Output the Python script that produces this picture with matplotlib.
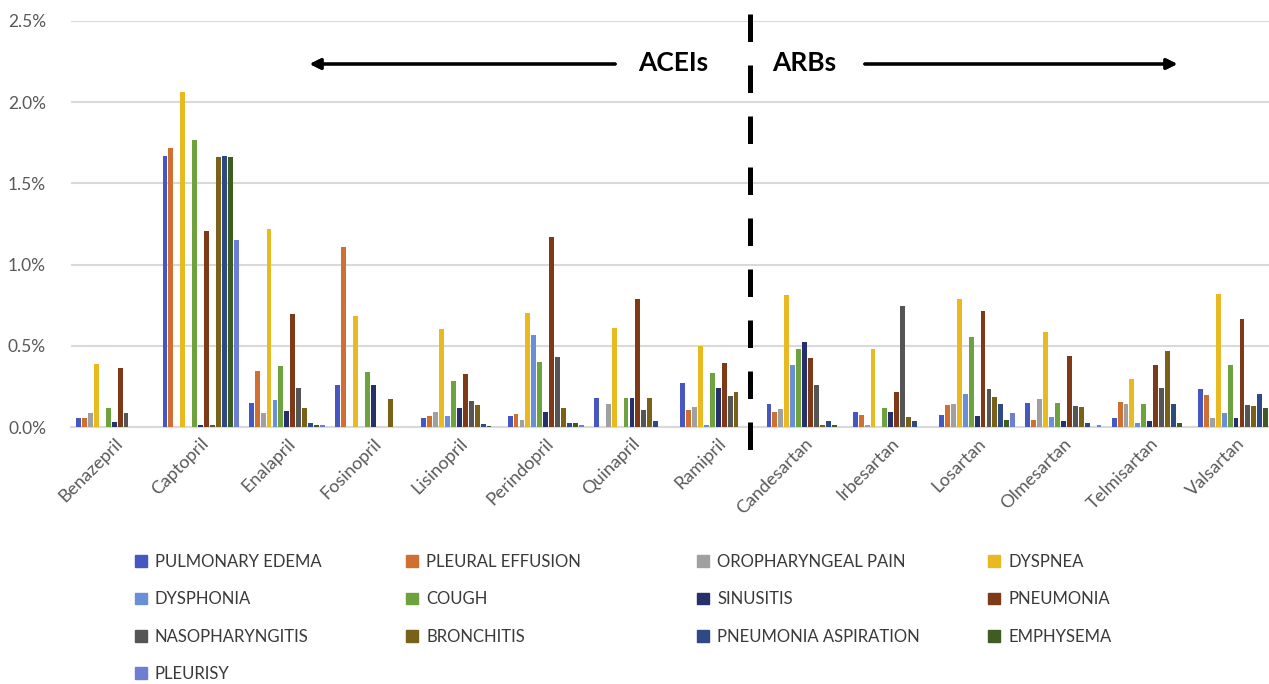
import matplotlib
matplotlib.use('Agg')
import matplotlib.pyplot as plt
from matplotlib.patches import Patch
from matplotlib.lines import Line2D
import numpy as np

plt.rcParams['font.family'] = ['Lato', 'DejaVu Sans']

drugs = ['Benazepril', 'Captopril', 'Enalapril', 'Fosinopril', 'Lisinopril', 'Perindopril',
         'Quinapril', 'Ramipril', 'Candesartan', 'Irbesartan', 'Losartan', 'Olmesartan',
         'Telmisartan', 'Valsartan']

series = ['PULMONARY EDEMA', 'PLEURAL EFFUSION', 'OROPHARYNGEAL PAIN', 'DYSPNEA', 'DYSPHONIA',
          'COUGH', 'SINUSITIS', 'PNEUMONIA', 'NASOPHARYNGITIS', 'BRONCHITIS',
          'PNEUMONIA ASPIRATION', 'EMPHYSEMA', 'PLEURISY']

colors = ['#4657C2', '#D06F32', '#A0A0A0', '#E9B921', '#6A8FD6', '#6EA23E', '#26306B',
          '#7E3A17', '#555555', '#7A6118', '#2D4A84', '#3F5D23', '#6C7FD4']

# values in percent, one list per series, in drug order
pulmonary_edema = [0.058, 1.67, 0.146, 0.256, 0.057, 0.068, 0.176, 0.273, 0.14, 0.092, 0.077, 0.146, 0.054, 0.235]
pleural_effusion = [0.058, 1.72, 0.344, 1.107, 0.068, 0.078, 0.0, 0.106, 0.095, 0.077, 0.137, 0.046, 0.155, 0.196]
oropharyngeal_pain = [0.089, 0.0, 0.088, 0.0, 0.092, 0.045, 0.144, 0.125, 0.11, 0.01, 0.14, 0.171, 0.14, 0.054]
dyspnea = [0.39, 2.06, 1.218, 0.681, 0.605, 0.703, 0.611, 0.496, 0.815, 0.48, 0.786, 0.587, 0.298, 0.819]
dysphonia = [0.0, 0.0, 0.164, 0.0, 0.07, 0.568, 0.0, 0.01, 0.384, 0.0, 0.204, 0.06, 0.026, 0.087]
cough = [0.117, 1.77, 0.373, 0.34, 0.285, 0.398, 0.178, 0.33, 0.482, 0.12, 0.552, 0.146, 0.14, 0.384]
sinusitis = [0.031, 0.01, 0.098, 0.256, 0.119, 0.09, 0.178, 0.242, 0.526, 0.092, 0.066, 0.034, 0.04, 0.054]
pneumonia = [0.363, 1.205, 0.695, 0.0, 0.324, 1.169, 0.787, 0.394, 0.426, 0.218, 0.716, 0.44, 0.384, 0.665]
nasopharyngitis = [0.089, 0.01, 0.24, 0.0, 0.162, 0.432, 0.106, 0.19, 0.261, 0.743, 0.235, 0.132, 0.241, 0.134]
bronchitis = [0.0, 1.66, 0.115, 0.17, 0.137, 0.115, 0.178, 0.217, 0.01, 0.06, 0.186, 0.122, 0.469, 0.13]
pneumonia_aspiration = [0.0, 1.67, 0.027, 0.0, 0.02, 0.025, 0.035, 0.0, 0.037, 0.034, 0.14, 0.022, 0.14, 0.206]
emphysema = [0.0, 1.66, 0.01, 0.0, 0.006, 0.025, 0.0, 0.0, 0.01, 0.0, 0.044, 0.0, 0.026, 0.118]
pleurisy = [0.0, 1.154, 0.01, 0.0, 0.0, 0.01, 0.0, 0.0, 0.0, 0.0, 0.089, 0.01, 0.0, 0.29]

values = [pulmonary_edema, pleural_effusion, oropharyngeal_pain, dyspnea, dysphonia, cough,
          sinusitis, pneumonia, nasopharyngitis, bronchitis, pneumonia_aspiration, emphysema, pleurisy]

yticks = [0, 0.5, 1.0, 1.5, 2.0, 2.5]
ytick_labels = ['0.0%', '0.5%', '1.0%', '1.5%', '2.0%', '2.5%']

fig = plt.figure(figsize=(12.69, 6.84), dpi=100)
ax = fig.add_axes([0.056, 0.3757, 0.952, 0.5936])

x = np.arange(len(drugs))
slot = 0.0687
for j, (name, vals) in enumerate(zip(series, values)):
    ax.bar(x + (j - 6) * slot, vals, width=slot * 0.82, color=colors[j], label=name, zorder=3)

ax.set_xlim(-0.5, len(drugs) - 0.5)
ax.set_ylim(0, 2.5)
ax.set_yticks(yticks)
ax.set_yticklabels(ytick_labels, fontsize=12.5, color='#595959')
ax.set_xticks(x)
ax.set_xticklabels(drugs, rotation=45, ha='right', rotation_mode='anchor',
                   fontsize=13, color='#595959')
ax.tick_params(axis='both', length=0)
ax.tick_params(axis='y', pad=18)
ax.tick_params(axis='x', pad=6)
ax.yaxis.grid(True, color='#D9D9D9', linewidth=1.5, zorder=0)
for s in ['top', 'right', 'left']:
    ax.spines[s].set_visible(False)
ax.spines['bottom'].set_color('#D9D9D9')
ax.spines['bottom'].set_linewidth(1.5)

# ACEIs / ARBs divider
fig.add_artist(Line2D([0.591, 0.591], [1 - 14 / 684, 1 - 452 / 684], transform=fig.transFigure,
                      color='black', linewidth=3.6, linestyle=(0, (5.5, 4.7)), zorder=5))
fig.text(0.5305, 1 - 63 / 684, 'ACEIs', ha='center', va='center', fontsize=19, fontweight='bold')
fig.text(0.6335, 1 - 63 / 684, 'ARBs', ha='center', va='center', fontsize=19, fontweight='bold')
arrow = dict(arrowstyle='-|>', color='black', lw=2.2, mutation_scale=16)
fig.add_artist(plt.annotate('', xy=(307 / 1269, 1 - 64 / 684), xytext=(618 / 1269, 1 - 64 / 684),
                            xycoords='figure fraction', arrowprops=arrow))
fig.add_artist(plt.annotate('', xy=(1180 / 1269, 1 - 64 / 684), xytext=(862 / 1269, 1 - 64 / 684),
                            xycoords='figure fraction', arrowprops=arrow))

# legend, laid out row-wise in four columns like the source
col_x = [135, 406, 697, 988]
for c in range(4):
    idx = list(range(c, len(series), 4))
    handles = [Patch(color=colors[k]) for k in idx]
    labels = [series[k] for k in idx]
    fig.legend(handles, labels, loc='upper left', bbox_to_anchor=(col_x[c] / 1269, 1 - 554 / 684),
               frameon=False, fontsize=12, labelcolor='#3A3A3A', handlelength=0.7, handleheight=0.7,
               handletextpad=0.5, labelspacing=1.28, borderpad=0, borderaxespad=0)

fig.savefig('out.png', dpi=100)
